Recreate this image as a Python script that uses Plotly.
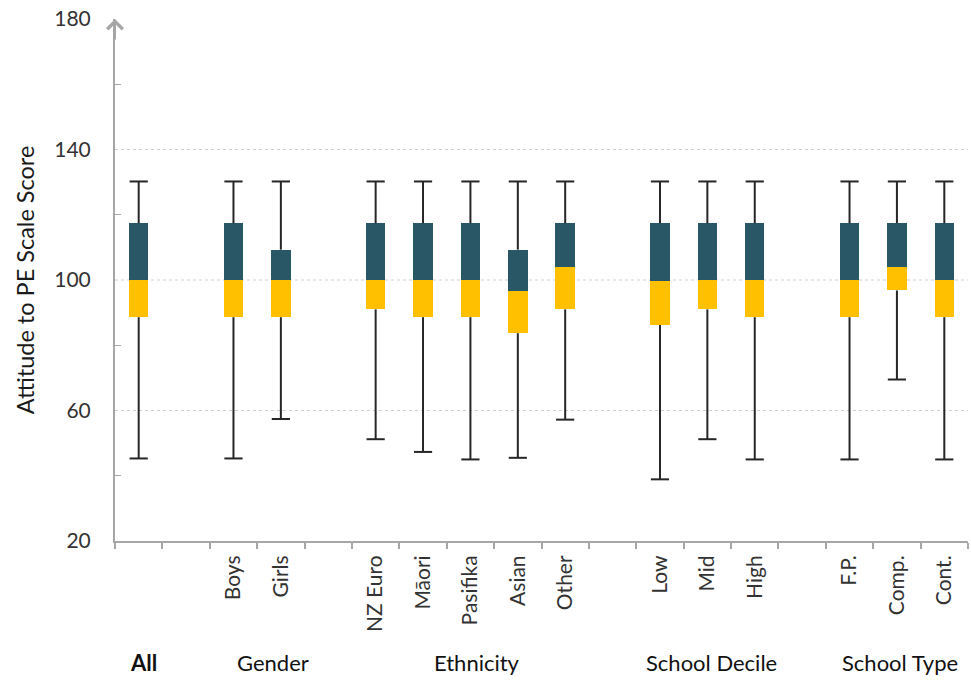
import plotly.graph_objects as go

# Five-number summaries of the Attitude to PE scale score, by subgroup
groups = ["All", "Gender", "Ethnicity", "School Decile", "School Type"]
group_members = [
    ["All"],
    ["Boys", "Girls"],
    ["NZ Euro", "Māori", "Pasifika", "Asian", "Other"],
    ["Low", "Mid", "High"],
    ["F.P.", "Comp.", "Cont."],
]
labels = ["All", "Boys", "Girls", "NZ Euro", "Māori", "Pasifika", "Asian", "Other",
          "Low", "Mid", "High", "F.P.", "Comp.", "Cont."]
minimum = [45.3, 45.3, 57.4, 51.2, 47.3, 45.0, 45.5, 57.2, 38.9, 51.2, 45.0, 45.0, 69.5, 45.0]
q1 = [88.6, 88.6, 88.6, 91.0, 88.6, 88.6, 83.7, 91.0, 86.2, 91.0, 88.6, 88.6, 96.8, 88.6]
median = [100.0, 100.0, 100.0, 100.0, 100.0, 100.0, 96.6, 104.0, 99.6, 100.0, 100.0, 100.0, 104.0, 100.0]
q3 = [117.4, 117.4, 109.3, 117.4, 117.4, 117.4, 109.3, 117.4, 117.4, 117.4, 117.4, 117.4, 117.4, 117.4]
maximum = [130.2] * 14

y_ticks = [20, 60, 100, 140, 180]
y_minor = [40, 80, 120, 160]
grid_values = [60, 100, 140]

DARK = "#2A5766"
GOLD = "#FFC000"
WHISKER = "#262626"
AXIS = "#A6A6A6"
TEXT = "#333333"
FONT = "Lato"

# Category slots: one empty slot separates consecutive groups
slots, slot_text, group_centres = [], [], []
for gi, members in enumerate(group_members):
    if gi > 0:
        slots.append(f"gap{gi}")
        slot_text.append("")
    start = len(slots)
    for m in members:
        slots.append(m)
        slot_text.append("" if m == "All" else m)
    group_centres.append((start + len(slots) - 1) / 2)

fig = go.Figure()

# Lower half of each box (Q1 to median)
fig.add_trace(go.Bar(
    x=labels, y=[m - a for m, a in zip(median, q1)], base=q1,
    marker=dict(color=GOLD, line=dict(width=0)), width=0.41,
    hoverinfo="skip", showlegend=False,
))
# Upper half of each box (median to Q3)
fig.add_trace(go.Bar(
    x=labels, y=[b - m for b, m in zip(q3, median)], base=median,
    marker=dict(color=DARK, line=dict(width=0)), width=0.41,
    hoverinfo="skip", showlegend=False,
))

# Whiskers
wx, wy = [], []
for lab, lo, a, b, hi in zip(labels, minimum, q1, q3, maximum):
    wx += [lab, lab, None, lab, lab, None]
    wy += [lo, a, None, b, hi, None]
fig.add_trace(go.Scatter(
    x=wx, y=wy, mode="lines", line=dict(color=WHISKER, width=2),
    hoverinfo="skip", showlegend=False,
))
# Whisker caps
fig.add_trace(go.Scatter(
    x=labels + labels, y=minimum + maximum, mode="markers",
    marker=dict(symbol="line-ew", size=13, line=dict(color=WHISKER, width=2)),
    hoverinfo="skip", showlegend=False,
))

fig.update_layout(
    width=971, height=682,
    margin=dict(l=115, r=3, t=19, b=141),
    paper_bgcolor="white", plot_bgcolor="white",
    bargap=0, barmode="overlay",
    font=dict(family=FONT, color=TEXT),
)

fig.update_xaxes(
    type="category", categoryorder="array", categoryarray=slots,
    tickmode="array", tickvals=slots, ticktext=slot_text,
    tickson="boundaries", ticks="outside", ticklen=6, tickwidth=2, tickcolor=AXIS,
    tickangle=-90, tickfont=dict(family=FONT, size=21, color=TEXT),
    ticklabelstandoff=4,
    showline=True, linecolor=AXIS, linewidth=2, showgrid=False,
    range=[-0.5, len(slots) - 0.5], fixedrange=True,
)
fig.update_yaxes(
    range=[20, 180], tickmode="array", tickvals=y_ticks,
    ticks="", tickfont=dict(family=FONT, size=21, color=TEXT),
    ticklabelstandoff=18,
    minor=dict(tickmode="array", tickvals=y_minor, ticks="inside",
               ticklen=6, tickwidth=1, tickcolor=AXIS, showgrid=False),
    showline=True, linecolor=AXIS, linewidth=2, showgrid=False, zeroline=False,
    title=dict(text="Attitude to PE Scale Score",
               font=dict(family=FONT, size=23.5, color="#1a1a1a"), standoff=13),
    fixedrange=True,
)

# Dotted horizontal gridlines
for gv in grid_values:
    fig.add_shape(type="line", xref="paper", x0=0, x1=1, yref="y", y0=gv, y1=gv,
                  line=dict(color="#D0D0D0", width=1, dash="dot"), layer="below")

# Arrow head on the value axis
fig.add_annotation(
    x=0, xref="paper", y=180, yref="y", ax=0, ay=22, axref="pixel", ayref="pixel",
    text="", showarrow=True, arrowhead=4, arrowsize=1.5, arrowwidth=2,
    arrowcolor=AXIS, standoff=0,
)

# Group names beneath the category labels
group_shift = [5, 16, 7, 4, 3]
for name, centre, dx in zip(groups, group_centres, group_shift):
    fig.add_annotation(
        x=centre, xref="x", y=0, yref="paper", yshift=-121, xshift=dx,
        text=f"<b>{name}</b>" if name == "All" else name,
        showarrow=False, yanchor="middle", xanchor="center",
        font=dict(family=FONT, size=22, color="#111111"),
    )

fig.write_html("out.html")
